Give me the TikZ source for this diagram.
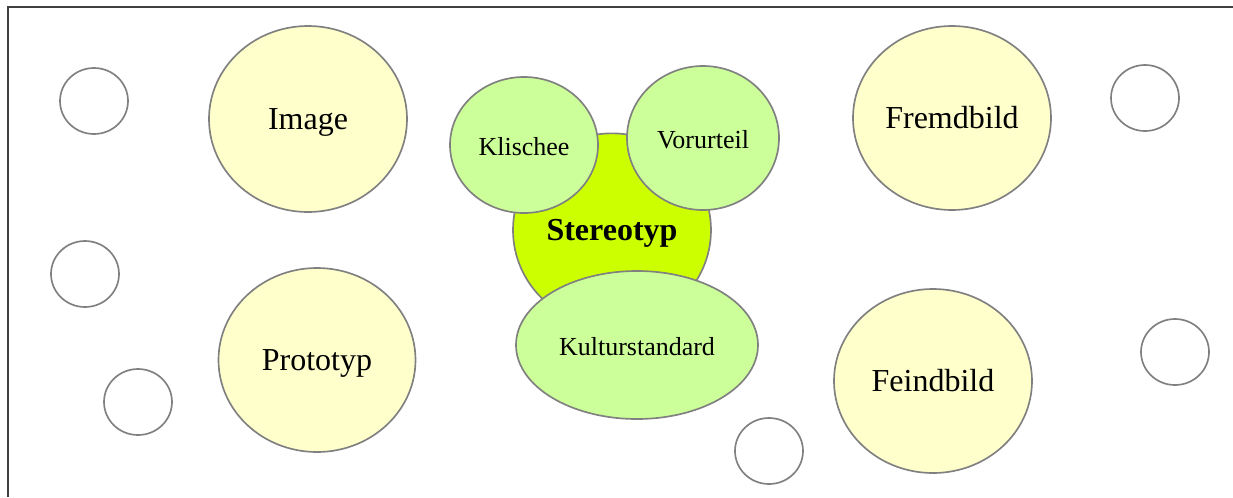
\documentclass[tikz,border=0pt]{standalone}
\usepackage{fontspec}
\setmainfont{Liberation Serif}
\usetikzlibrary{shapes.geometric}
\definecolor{edgegray}{HTML}{808080}
\definecolor{framegray}{HTML}{404040}
\definecolor{paleyellow}{HTML}{FFFFCC}
\definecolor{palegreen}{HTML}{CCFF99}
\definecolor{limegreen}{HTML}{CCFF00}
\tikzset{
  bubble/.style={ellipse, draw=edgegray, line width=1.25pt, inner sep=0pt,
    text height=16pt, text depth=0pt},
  bigterm/.style={bubble, fill=paleyellow, font=\fontsize{24}{28}\selectfont},
  subterm/.style={bubble, fill=palegreen, font=\fontsize{19.5}{23}\selectfont},
  core/.style={bubble, fill=limegreen, font=\bfseries\fontsize{24}{28}\selectfont},
  emptybubble/.style={bubble, fill=white, minimum width=51pt, minimum height=49.5pt},
}
\begin{document}
\begin{tikzpicture}[x=0.75pt, y=-0.75pt]
\useasboundingbox (0,0) rectangle (1233,497);
% frame
\draw[framegray, line width=0.8pt] (8,497) -- (8,7) -- (1233,7);

% small empty bubbles
\node[emptybubble] (e1) at (94,101) {};
\node[emptybubble] (e2) at (85,274) {};
\node[emptybubble] (e3) at (138,402) {};
\node[emptybubble] (e4) at (1145,98) {};
\node[emptybubble] (e5) at (1175,352) {};
\node[emptybubble] (e6) at (769,451) {};

% outer terms
\node[bigterm, minimum width=148.5pt, minimum height=139.5pt] (image) at (308,119) {Image};
\node[bigterm, minimum width=147.75pt, minimum height=138pt] (prototyp) at (317,360) {Prototyp};
\node[bigterm, minimum width=148.5pt, minimum height=138pt] (fremdbild) at (952,118) {Fremdbild};
\node[bigterm, minimum width=148.5pt, minimum height=138pt] (feindbild) at (933,381) {Feindbild};

% core term and its overlapping satellites
\node[core, minimum width=148.5pt, minimum height=145pt] (stereotyp) at (612,230) {Stereotyp};
\node[subterm, minimum width=111pt, minimum height=102pt] (klischee) at (524,145) {Klischee};
\node[subterm, minimum width=114pt, minimum height=108pt] (vorurteil) at (703,138) {Vorurteil};
\node[subterm, minimum width=181.5pt, minimum height=111pt] (kultur) at (637,345) {Kulturstandard};
\end{tikzpicture}
\end{document}
